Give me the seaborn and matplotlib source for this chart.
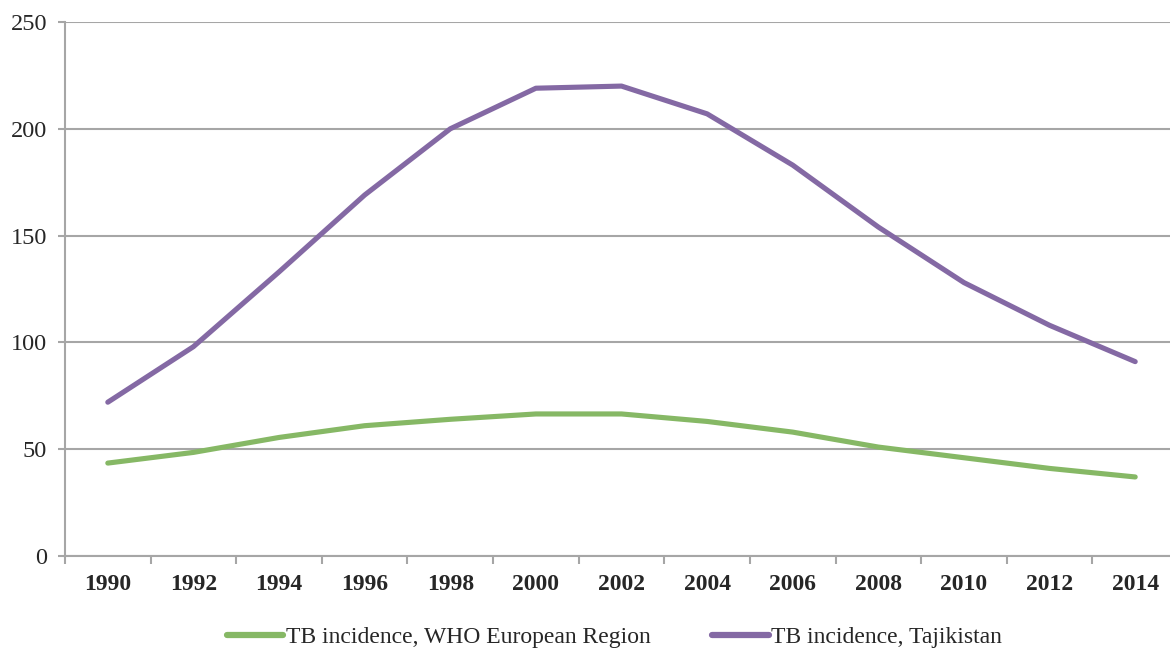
import matplotlib
matplotlib.use("Agg")
import matplotlib.pyplot as plt
import seaborn as sns
import pandas as pd
from matplotlib.ticker import MultipleLocator, FixedLocator

years = [1990, 1992, 1994, 1996, 1998, 2000, 2002, 2004, 2006, 2008, 2010, 2012, 2014]
europe = [43.5, 48.5, 55.5, 61, 64, 66.5, 66.5, 63, 58, 51, 46, 41, 37]
tajikistan = [72, 98, 133, 169, 200, 219, 220, 207, 183, 154, 128, 108, 91]
series_names = ["TB incidence, WHO European Region", "TB incidence, Tajikistan"]
palette = ["#86B865", "#8469A4"]

df = pd.concat([
    pd.DataFrame({"year": years, "value": europe, "series": series_names[0]}),
    pd.DataFrame({"year": years, "value": tajikistan, "series": series_names[1]}),
])

sns.set_theme(style="white")
plt.rcParams["font.family"] = ["Liberation Serif", "DejaVu Serif"]

fig = plt.figure(figsize=(11.7, 6.52), dpi=100)
ax = fig.add_axes([65 / 1170, 1 - 556 / 652, 1113 / 1170, 534 / 652])

sns.lineplot(data=df, x="year", y="value", hue="series", palette=palette,
             linewidth=3.7, ax=ax, legend=False, zorder=3)

ax.set_xlim(1989, 2015)
ax.set_ylim(0, 250)
ax.yaxis.set_major_locator(MultipleLocator(50))
ax.xaxis.set_major_locator(FixedLocator(years))
ax.xaxis.set_minor_locator(FixedLocator(list(range(1989, 2016, 2))))
ax.set_xticklabels([str(y) for y in years], fontweight="bold", fontsize=17)
ax.tick_params(axis="x", which="major", length=0, pad=13)
ax.tick_params(axis="x", which="minor", length=6, width=1.5, color="#A6A6A6", direction="out", bottom=True)
ax.tick_params(axis="y", length=5, width=1.5, color="#A6A6A6", labelsize=17.5, pad=8, left=True)
ax.grid(axis="y", color="#A6A6A6", linewidth=1.5, zorder=0)
ax.set_axisbelow(True)
ax.set_xlabel("")
ax.set_ylabel("")
for side in ["top", "right"]:
    ax.spines[side].set_visible(False)
for side in ["left", "bottom"]:
    ax.spines[side].set_color("#A6A6A6")
    ax.spines[side].set_linewidth(1.5)

handles = [plt.Line2D([0], [0], color=c, linewidth=4.5, solid_capstyle="round") for c in palette]
fig.legend(handles, series_names, loc="center", bbox_to_anchor=(0.525, 1 - 637 / 652),
           ncol=2, frameon=False, fontsize=17, handlelength=2.4, handletextpad=0.1,
           columnspacing=2.6)

fig.savefig("out.png", dpi=100)
